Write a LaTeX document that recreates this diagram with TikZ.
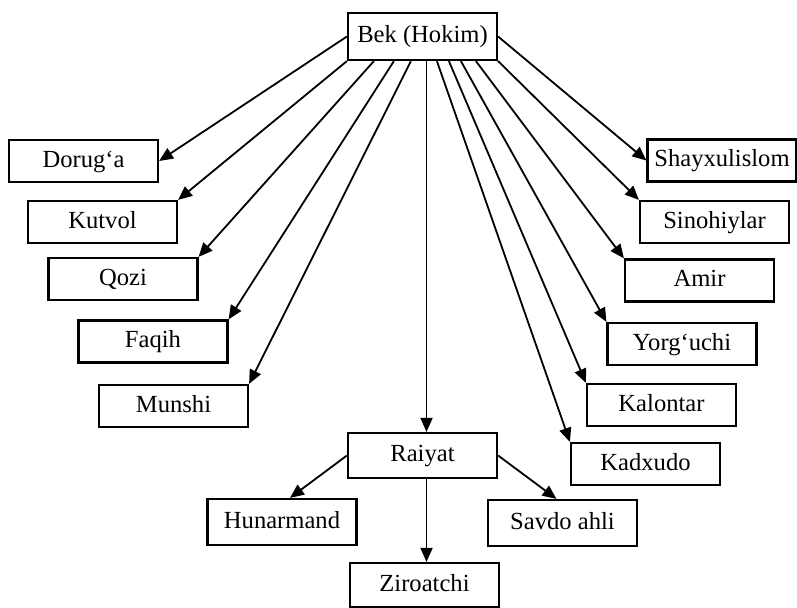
\documentclass[tikz,border=0pt]{standalone}
\usepackage{fontspec}
\setmainfont{Liberation Serif}
\usetikzlibrary{arrows.meta}

\begin{document}
\begin{tikzpicture}[x=0.5pt,y=-0.5pt,>={Triangle[length=7pt,width=6pt]},
	box/.style={draw,line width=1.1pt,minimum width=74.5pt,minimum height=21pt,inner sep=0pt,
		text height=8.6pt,text depth=2.4pt,font=\fontsize{12.3}{14}\selectfont}]

\useasboundingbox (0,0) rectangle (797,607);

\node[box,minimum height=23.5pt]   (bek)   at (422.5,36.5)   {Bek (Hokim)};

\node[box]   (dor)   at (83.5,161)    {Dorug‘a};
\node[box]   (kut)   at (102.5,222)   {Kutvol};
\node[box]   (qoz)   at (123,279)     {Qozi};
\node[box]   (faq)   at (153,341.5)   {Faqih};
\node[box]   (mun)   at (173.5,406)   {Munshi};

\node[box]   (sha)   at (722,160.5)   {Shayxulislom};
\node[box]   (sin)   at (714.5,222)   {Sinohiylar};
\node[box]   (ami)   at (699.5,280.5) {Amir};
\node[box]   (yor)   at (682,344)     {Yorg‘uchi};
\node[box]   (kal)   at (661.5,405)   {Kalontar};
\node[box]   (kad)   at (645.5,464)   {Kadxudo};

\node[box,minimum height=22.5pt]   (rai)   at (422.5,455.5)   {Raiyat};
\node[box,minimum height=23pt]     (hun)   at (282,522)       {Hunarmand};
\node[box,minimum height=23pt]     (sav)   at (562.5,523)     {Savdo ahli};
\node[box,minimum height=22pt]     (zir)   at (424.5,585)     {Ziroatchi};

	\path[->,line width=0.9pt]
		(bek.west)  edge  (dor.east)
		(bek.south west)  edge  (kut.north east)
		([xshift=13.5pt]bek.south west)  edge  (qoz.north east)
		([xshift=23.5pt]bek.south west)  edge  (faq.north east)
		([xshift=32pt]bek.south west)  edge  (mun.north east)
		([xshift=2pt]bek.south)  edge  ([xshift=2pt]rai.north)
		([xshift=45pt]bek.south west)  edge  (kad.north west)
		([xshift=51pt]bek.south west)  edge  (kal.north west)
		([xshift=57pt]bek.south west)  edge  (yor.north west)
		([xshift=64.5pt]bek.south west)  edge  (ami.north west)
		(bek.south east)  edge  (sin.north west)
		(bek.east)  edge  (sha.west)

		(rai.west)  edge  ([xshift=4pt]hun.north)
		([xshift=2pt]rai.south)  edge  ([xshift=1pt]zir.north)
		(rai.east)  edge  ([xshift=-3pt]sav.north);

\end{tikzpicture}
\end{document}
